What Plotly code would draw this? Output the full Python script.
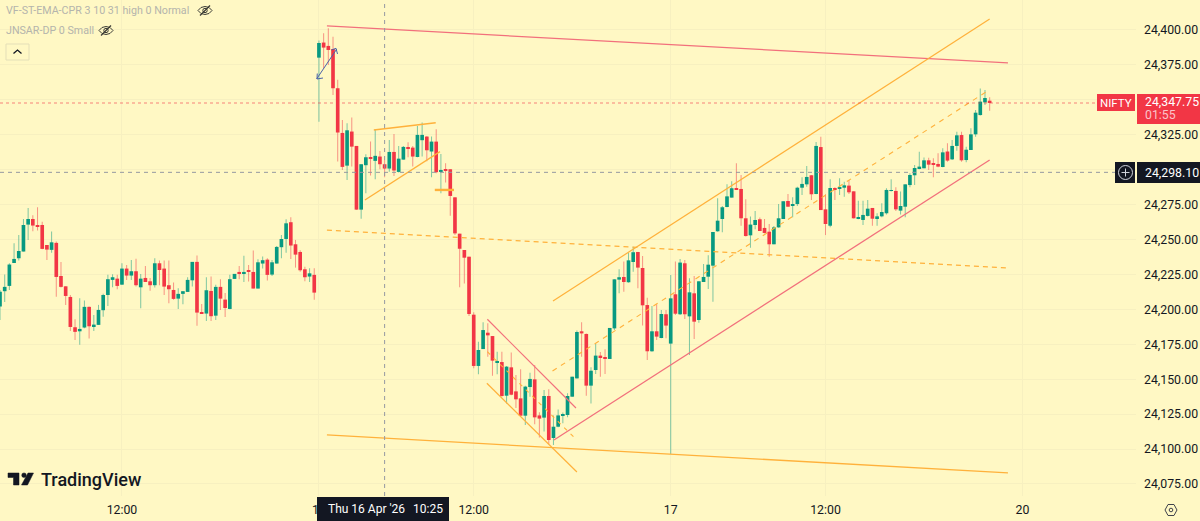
import plotly.graph_objects as go

first_bar = -26
opens = [24202.0,24213.0,24216.8,24233.2,24236.6,24241.4,24260.7,24264.7,24260.4,24260.4,
24246.1,24242.6,24247.6,24223.9,24216.5,24208.9,24187.2,24184.3,24187.0,24201.8,
24187.7,24188.9,24199.4,24210.3,24221.1,24222.0,24217.7,24229.2,24224.2,24227.3,
24215.8,24222.5,24220.1,24217.3,24233.0,24229.2,24217.3,24213.9,24207.7,24211.1,
24212.5,24220.8,24234.0,24197.5,24197.0,24213.2,24195.5,24216.1,24207.0,24200.3,
24221.8,24226.8,24225.6,24227.5,24226.8,24214.9,24232.8,24235.6,24224.9,24232.8,
24244.5,24250.4,24262.4,24246.6,24241.1,24228.7,24223.5,24224.7,
24380.2,24391.0,24388.6,24386.4,24358.3,24326.3,24302.9,24327.3,24317.0,
24271.4,24303.2,24308.4,24306.3,24309.4,24303.9,24300.8,24312.7,24298.4,
24307.2,24315.6,24315.8,24309.1,24321.1,24323.7,24313.0,24320.1,24298.6,24300.5,
24300.3,24280.2,24254.2,24242.5,24237.7,24196.2,24159.5,24171.6,24183.3,24180.9,
24161.8,24162.3,24138.2,24158.5,24141.3,24136.3,24123.9,24144.4,24149.9,24124.1,
24122.5,24138.0,24107.9,24116.0,24123.7,24124.4,24137.5,24150.6,24184.3,24182.4,
24145.4,24156.6,24166.9,24165.7,24164.5,24186.4,24221.3,24223.2,24219.4,24233.9,
24241.1,24229.6,24203.1,24170.0,24184.3,24179.5,24196.5,24175.5,24210.8,24196.5,
24233.0,24195.0,24211.5,24192.4,24219.6,24223.4,24231.3,24255.9,24264.7,24273.3,
24280.0,24286.7,24286.2,24265.2,24253.0,24260.4,24264.5,24258.3,24255.6,24246.6,
24258.7,24264.7,24277.6,24274.0,24275.4,24287.1,24289.5,24296.0,24282.6,24316.2,
24271.6,24259.9,24286.9,24286.4,24287.1,24288.6,24284.5,24264.7,24264.0,24266.9,
24272.6,24264.7,24266.6,24268.8,24284.8,24284.8,24270.7,24273.5,24289.0,24296.0,
24300.5,24301.0,24306.7,24304.5,24304.1,24301.9,24313.0,24307.4,24317.0,24324.8,
24306.9,24314.1,24325.3,24339.1,24348.2,24349.4]
highs = [24213.9,24224.9,24233.0,24247.3,24253.3,24264.7,24272.6,24267.4,24273.1,24262.8,
24246.1,24255.7,24248.5,24234.0,24216.5,24210.3,24192.9,24208.0,24206.3,24202.0,
24196.0,24203.2,24211.1,24224.7,24225.1,24224.7,24233.0,24231.8,24235.4,24236.3,
24225.4,24231.1,24222.5,24236.6,24234.9,24234.9,24234.9,24219.2,24215.1,24213.0,
24223.0,24234.0,24238.5,24203.9,24223.0,24223.5,24217.7,24221.6,24211.8,24224.7,
24225.4,24231.1,24238.3,24231.8,24242.1,24235.9,24237.8,24236.6,24235.4,24245.4,
24253.3,24264.5,24265.9,24249.7,24242.3,24230.6,24229.4,24229.4,
24392.4,24397.7,24401.2,24395.2,24364.3,24335.6,24333.2,24337.3,24317.0,
24303.9,24311.0,24320.1,24328.9,24313.4,24307.0,24321.3,24325.6,24317.0,
24317.0,24319.6,24317.0,24331.3,24333.7,24324.2,24323.7,24328.9,24311.3,24304.6,
24300.3,24280.2,24254.2,24242.5,24237.7,24197.9,24176.9,24190.7,24190.0,24180.9,
24169.7,24169.7,24159.5,24169.2,24153.0,24157.1,24145.4,24154.7,24160.2,24126.3,
24142.3,24142.8,24124.1,24128.4,24126.1,24139.9,24151.8,24184.8,24190.7,24182.8,
24158.5,24175.2,24169.5,24171.4,24186.7,24221.5,24228.7,24234.2,24240.6,24244.9,
24241.1,24238.2,24208.4,24202.4,24203.6,24199.6,24199.6,24224.6,24234.2,24236.1,
24235.4,24222.2,24223.9,24220.1,24232.5,24238.7,24255.4,24279.5,24274.0,24289.5,
24291.7,24304.6,24296.2,24278.8,24266.4,24270.4,24265.7,24264.7,24261.1,24259.7,
24275.4,24277.4,24282.6,24280.2,24287.8,24294.5,24302.6,24296.2,24319.8,24323.6,
24282.4,24293.1,24287.4,24293.8,24291.4,24292.6,24284.5,24277.8,24277.8,24278.3,
24272.6,24268.8,24275.9,24286.7,24293.1,24287.4,24284.3,24289.5,24297.4,24303.4,
24312.9,24308.8,24308.6,24308.1,24311.7,24315.3,24318.9,24321.3,24327.2,24327.2,
24316.5,24329.6,24342.7,24358.2,24357.0,24351.8]
lows = [24192.4,24205.3,24213.9,24233.2,24234.9,24241.4,24249.7,24255.9,24256.4,24243.0,
24235.4,24240.6,24209.1,24215.6,24203.2,24184.6,24178.1,24174.6,24186.5,24179.1,
24184.6,24188.9,24194.8,24202.5,24215.8,24214.4,24217.5,24221.1,24221.1,24216.3,
24200.8,24219.6,24213.4,24215.6,24217.3,24210.3,24204.4,24206.8,24200.3,24203.7,
24212.5,24216.3,24188.2,24196.7,24191.7,24191.7,24192.4,24199.6,24194.6,24200.1,
24221.8,24221.6,24219.6,24219.9,24214.9,24214.9,24229.2,24220.6,24223.9,24232.8,
24236.6,24240.6,24236.1,24229.9,24227.0,24220.1,24219.6,24206.8,
24334.4,24372.6,24375.0,24353.5,24305.8,24299.8,24292.7,24302.2,24271.4,
24264.8,24283.1,24295.8,24293.2,24300.3,24294.6,24298.6,24295.5,24297.9,
24307.2,24308.9,24302.2,24308.9,24309.4,24306.0,24294.6,24297.4,24283.1,24290.8,
24267.1,24253.2,24215.8,24218.6,24195.3,24157.8,24153.5,24171.6,24166.1,24152.5,
24153.5,24137.5,24132.7,24138.5,24129.4,24123.2,24117.2,24137.5,24117.7,24108.2,
24112.5,24103.6,24102.9,24115.6,24118.4,24122.7,24137.5,24150.6,24166.1,24138.2,
24132.7,24153.7,24151.8,24153.7,24164.5,24185.3,24211.5,24212.7,24219.1,24227.0,
24215.1,24188.4,24163.8,24169.7,24178.1,24179.3,24179.3,24096.5,24196.0,24196.0,
24193.1,24167.4,24178.8,24190.5,24219.6,24214.6,24205.5,24255.6,24255.2,24273.1,
24280.0,24285.5,24259.9,24252.1,24244.2,24257.3,24256.1,24254.4,24237.7,24246.6,
24258.5,24264.7,24273.5,24265.9,24274.0,24281.9,24287.8,24278.3,24282.4,24271.1,
24253.2,24258.7,24278.3,24281.9,24280.7,24282.6,24265.0,24264.5,24260.4,24266.4,
24259.9,24259.9,24265.9,24268.0,24284.3,24270.4,24268.0,24265.9,24287.4,24289.0,
24300.3,24301.0,24299.8,24294.5,24301.7,24301.7,24305.7,24306.9,24313.6,24305.7,
24305.3,24314.1,24323.6,24338.7,24346.3,24342.2]
closes = [24212.7,24216.1,24232.1,24236.1,24241.8,24260.4,24264.7,24260.0,24259.3,24243.3,
24242.8,24248.0,24223.2,24216.1,24209.6,24187.4,24183.9,24186.0,24201.8,24187.9,
24189.1,24199.6,24210.3,24221.6,24223.0,24216.8,24229.2,24224.2,24227.3,24217.3,
24222.0,24219.6,24217.3,24233.0,24228.2,24216.3,24214.4,24207.5,24211.1,24213.0,
24221.1,24234.0,24197.7,24196.7,24213.7,24195.1,24216.1,24207.7,24201.0,24221.6,
24225.4,24225.8,24226.8,24227.0,24214.9,24233.7,24235.2,24224.7,24233.7,24244.7,
24250.4,24261.6,24245.7,24239.2,24228.0,24223.0,24225.8,24212.0,
24390.7,24387.4,24385.7,24358.3,24326.6,24302.0,24328.2,24316.5,24271.4,
24303.9,24308.9,24307.7,24309.9,24303.9,24300.8,24312.7,24299.4,24307.9,
24316.3,24314.9,24309.4,24324.9,24324.9,24313.9,24320.1,24298.2,24299.8,24299.1,
24281.2,24254.4,24243.4,24237.0,24196.7,24159.5,24170.9,24185.2,24181.4,24163.3,
24162.8,24138.0,24159.0,24138.9,24135.6,24123.9,24144.7,24150.2,24122.7,24121.8,
24138.0,24106.5,24116.0,24124.1,24125.1,24138.0,24151.8,24183.8,24182.8,24145.4,
24156.1,24166.9,24165.7,24164.9,24186.7,24221.5,24223.0,24219.6,24235.1,24240.9,
24229.9,24202.9,24170.0,24184.3,24180.5,24196.7,24188.4,24207.9,24196.9,24233.5,
24196.5,24212.2,24191.2,24220.1,24223.2,24232.0,24255.4,24263.5,24273.1,24280.9,
24286.7,24285.5,24265.2,24252.5,24260.7,24264.0,24256.1,24254.7,24246.6,24258.7,
24265.2,24277.4,24273.5,24275.4,24287.1,24289.8,24294.8,24282.4,24317.0,24271.1,
24261.1,24286.9,24285.7,24287.4,24288.8,24283.8,24265.2,24265.7,24267.6,24272.1,
24264.9,24266.6,24269.7,24285.5,24285.3,24271.6,24274.0,24289.5,24296.2,24301.2,
24302.2,24306.7,24303.6,24303.4,24302.2,24312.4,24306.5,24317.0,24324.6,24306.7,
24314.3,24325.3,24340.8,24348.7,24351.3,24347.75]

price_ticks = [24075, 24100, 24125, 24150, 24175, 24200, 24225, 24250, 24275, 24300, 24325, 24350, 24375, 24400]
price_labels = ["24,075.00", "24,100.00", "24,125.00", "24,150.00", "24,175.00", "24,200.00", "24,225.00",
                "24,250.00", "24,275.00", "", "24,325.00", "", "24,375.00", "24,400.00"]
time_ticks = [0, 42, 75, 117, 150, 192]
time_labels = ["12:00", "16", "12:00", "17", "12:00", "20"]

last_price = 24347.75
cross_price = 24298.10
cross_bar = 56

# trend lines: [bar, bar], [price, price]
red_top = ([43.7, 188.9], [24402.9, 24376.4])
orange_bottom = ([43.7, 188.9], [24110.1, 24082.9])
orange_mid = ([43.7, 188.7], [24256.8, 24229.6])
channel_up = ([91.9, 185.0], [24206.0, 24407.9])
channel_mid = ([91.8, 184.3], [24155.9, 24355.8])
channel_low = ([92.1, 185.0], [24106.5, 24306.9])
fall_top = ([77.9, 96.8], [24192.9, 24129.4])
fall_low = ([77.8, 97.0], [24147.1, 24083.6])
fall_mid = ([77.9, 96.3], [24169.7, 24108.7])
wedge_top = ([53.7, 66.9], [24328.4, 24333.6])
wedge_low = ([51.8, 67.8], [24278.3, 24312.9])
flat_mark = ([66.7, 70.8], [24285.5, 24285.5])
arrow_bars = [41.5, 45.8]
arrow_prices = [24364.9, 24386.4]

BG = "#FFF8C4"
GRID = "#F7F0C0"
GREEN = "#089981"
RED = "#F23645"
ORANGE = "#FFB13B"
SOFT_RED = "#F2707C"
DARK = "#131722"
ARROW = "#4A62A8"
FONT = "Roboto"
LABEL = 12.3
W, H = 1136.0, 496.0

bars = [first_bar + k for k in range(len(opens))]
up = [c >= o for o, c in zip(opens, closes)]

fig = go.Figure()
fig.add_trace(go.Bar(x=bars, base=lows, y=[h - l for h, l in zip(highs, lows)], width=0.22,
                     marker=dict(color=["rgba(8,153,129,0.5)" if u else "rgba(242,54,69,0.5)" for u in up],
                                 line_width=0), hoverinfo="skip"))
fig.add_trace(go.Bar(x=bars, base=[min(o, c) for o, c in zip(opens, closes)],
                     y=[max(abs(o - c), 0.6) for o, c in zip(opens, closes)], width=0.78,
                     marker=dict(color=[GREEN if u else RED for u in up], line_width=0), hoverinfo="skip"))

for line, color, width, dash in [
    (red_top, SOFT_RED, 1.3, "solid"), (orange_bottom, ORANGE, 1.3, "solid"),
    (orange_mid, ORANGE, 1.3, "5px,4px"), (channel_up, ORANGE, 1.2, "solid"),
    (channel_mid, ORANGE, 1.1, "5px,5px"), (channel_low, SOFT_RED, 1.3, "solid"),
    (fall_top, SOFT_RED, 1.2, "solid"), (fall_low, ORANGE, 1.2, "solid"),
    (fall_mid, ORANGE, 1.1, "4px,5px"), (wedge_top, ORANGE, 1.6, "solid"),
    (wedge_low, ORANGE, 1.3, "solid"), (flat_mark, ORANGE, 2.4, "solid"),
    ((arrow_bars, arrow_prices), ARROW, 1.0, "solid")]:
    fig.add_trace(go.Scatter(x=line[0], y=line[1], mode="lines", hoverinfo="skip",
                             line=dict(color=color, width=width, dash=dash)))


def X(p):
    return p / W


def Y(p):
    return 1 - p / H


def box(x0, y0, x1, y1, fill, line=None):
    fig.add_shape(type="rect", xref="paper", yref="paper", x0=X(x0), x1=X(x1), y0=Y(y0), y1=Y(y1),
                  fillcolor=fill, line=dict(width=1 if line else 0, color=line or fill), layer="above")


def path(points, color, width=1.2, fill=None, close=False):
    d = "M " + " L ".join(f"{X(a):.5f},{Y(b):.5f}" for a, b in points) + (" Z" if close else "")
    fig.add_shape(type="path", xref="paper", yref="paper", path=d, layer="above",
                  fillcolor=fill or "rgba(0,0,0,0)", line=dict(color=color, width=width))


def circle(cx, cy, r, color, width=1.0, fill=None):
    fig.add_shape(type="circle", xref="paper", yref="paper", x0=X(cx - r), x1=X(cx + r), y0=Y(cy - r), y1=Y(cy + r),
                  fillcolor=fill or "rgba(0,0,0,0)", line=dict(color=color, width=width), layer="above")


def text(x, y, s, size, color, anchor="left", weight=None):
    fig.add_annotation(xref="paper", yref="paper", x=X(x), y=Y(y), text=s, showarrow=False, xanchor=anchor,
                       yanchor="middle", borderpad=0, font=dict(family=FONT, size=size, color=color, weight=weight))


def eye(cx, cy):
    ex = [(cx - 7, cy), (cx - 4, cy - 3), (cx, cy - 4), (cx + 4, cy - 3), (cx + 7, cy),
          (cx + 4, cy + 3), (cx, cy + 4), (cx - 4, cy + 3)]
    path(ex, "#3A3A34", 1.0, close=True)
    circle(cx, cy, 2.2, "#3A3A34", 1.0)
    path([(cx - 5, cy + 5), (cx + 5, cy - 5)], "#3A3A34", 1.2)


# reference lines
fig.add_shape(type="line", xref="paper", yref="y", x0=0, x1=X(1097), y0=last_price, y1=last_price, layer="above",
              line=dict(color="rgba(242,54,69,0.3)", width=2, dash="dot"))
fig.add_shape(type="line", xref="paper", yref="y", x0=0, x1=X(1115), y0=cross_price, y1=cross_price, layer="above",
              line=dict(color="#9598A1", width=1, dash="4px,4px"))
fig.add_shape(type="line", xref="x", yref="paper", x0=cross_bar, x1=cross_bar, y0=0, y1=1, layer="above",
              line=dict(color="#9598A1", width=1, dash="4px,4px"))

# arrow heads
path([(317.3, 73.5), (317, 79), (323, 78)], ARROW, 1.0)
path([(331.5, 50), (336, 48.3), (337.5, 54)], ARROW, 1.0)

# price labels
box(1097, 94, 1135, 111, RED)
text(1116, 102.5, "NIFTY", 11.5, "#FFFFFF", "center")
box(1137, 94, 1200, 124, RED)
text(1144, 102, f"{last_price:,.2f}", LABEL, "#FFFFFF")
text(1144, 115, "01:55", LABEL, "#FBC4C9")
box(1137, 162, 1200, 183, DARK)
text(1144, 172.5, f"{cross_price:,.2f}", LABEL, "#FFFFFF")
box(1115, 162, 1135, 183, DARK)
circle(1125.5, 172.5, 7, "#D1D4DC", 1)
path([(1121.5, 172.5), (1129.5, 172.5)], "#D1D4DC", 1)
path([(1125.5, 168.5), (1125.5, 176.5)], "#D1D4DC", 1)

# time label
box(317, 497, 449, 521, DARK)
text(326.5, 509.5, "Thu 16 Apr '26", 12, "#FFFFFF")
text(412, 509.5, "10:25", 12, "#FFFFFF")

# legend
text(5, 10.5, "VF-ST-EMA-CPR 3 10 31 high 0 Normal", 10.7, "#B4B4AC")
eye(205, 10.5)
text(5, 30.5, "JNSAR-DP 0 Small", 10.7, "#B4B4AC")
eye(106, 30.5)
fig.add_shape(type="path", xref="paper", yref="paper", layer="above", fillcolor="rgba(0,0,0,0)",
              line=dict(color="#E4DFB8", width=1),
              path="M %.5f,%.5f L %.5f,%.5f L %.5f,%.5f L %.5f,%.5f Z" % (X(6), Y(44), X(29), Y(44), X(29), Y(60), X(6), Y(60)))
path([(13.5, 53.5), (17.5, 50), (21.5, 53.5)], "#131722", 1.3)

# logo
path([(8, 473), (19, 473), (19, 485), (13.5, 485), (13.5, 477.5), (8, 477.5)], "#131722", 0.5, "#131722", True)
circle(24, 475.2, 2.3, "#131722", 0.5, "#131722")
path([(28, 473), (33.5, 473), (27.5, 485), (21.5, 485)], "#131722", 0.5, "#131722", True)
text(39.5, 479, "TradingView", 18, "#131722", weight=500)

# settings icon
path([(1165, 510), (1168, 504.5), (1174, 504.5), (1177, 510), (1174, 515.5), (1168, 515.5)], "#40434C", 1.0, close=True)
circle(1171, 510, 1.8, "#40434C", 1)

fig.update_layout(
    width=1200, height=521, margin=dict(l=0, r=64, t=0, b=25, pad=0), showlegend=False,
    paper_bgcolor=BG, plot_bgcolor=BG, barmode="overlay",
    font=dict(family=FONT, size=LABEL, color=DARK),
    xaxis=dict(range=[first_bar, 216.2], tickvals=time_ticks, ticktext=time_labels, showgrid=True, gridcolor=GRID,
               gridwidth=1, zeroline=False, showline=False, ticks="", ticklabelstandoff=5,
               tickfont=dict(family=FONT, size=LABEL, color=DARK)),
    yaxis=dict(range=[24066.4, 24421.47], side="right", tickvals=price_ticks, ticktext=price_labels, showgrid=True,
               gridcolor=GRID, gridwidth=1, zeroline=False, showline=False, ticks="", ticklabelstandoff=7,
               tickfont=dict(family=FONT, size=LABEL, color=DARK)),
)

fig.write_html("out.html", config={"displayModeBar": False},
               post_script="document.body.style.margin='0';document.body.style.background='%s';" % BG)
